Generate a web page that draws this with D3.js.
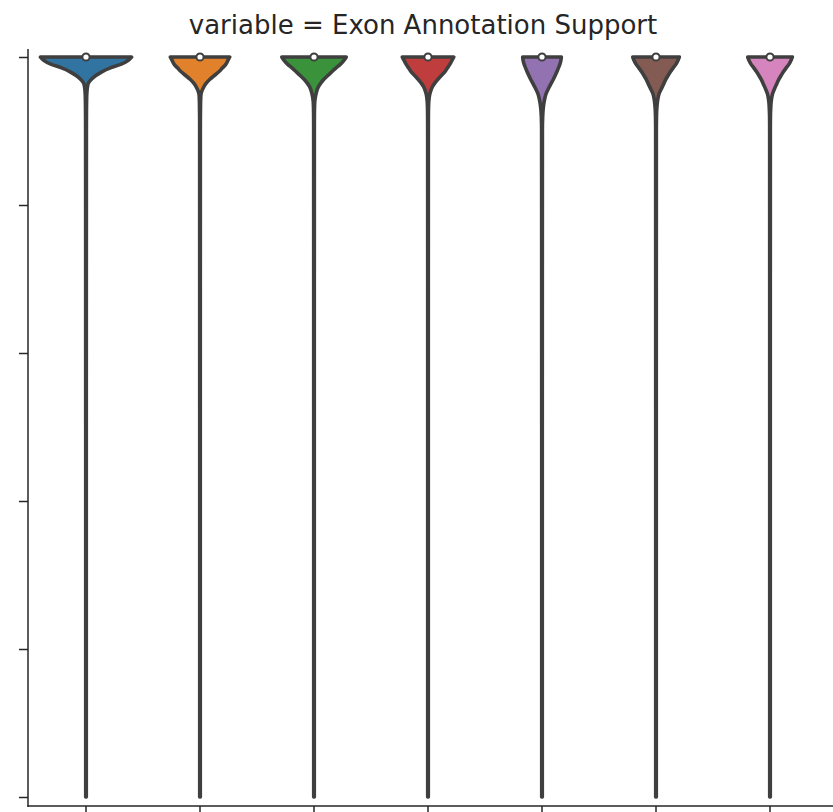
<!DOCTYPE html>
<html>
<head>
<meta charset="utf-8">
<script src="https://cdn.jsdelivr.net/npm/d3@7"></script>
<style>
  html, body { margin: 0; padding: 0; background: #fff; }
  svg { display: block; }
</style>
</head>
<body>
<svg id="chart" width="833" height="812"></svg>
<script>
// ---- data ----
const title = "variable = Exon Annotation Support";
const categories = ["c1", "c2", "c3", "c4", "c5", "c6", "c7"];
const colors = ["#3274a1", "#e1812c", "#3a923a", "#c03d3e", "#9372b2", "#845b53", "#d684bd"];
const yTicks = [0, 0.2, 0.4, 0.6, 0.8, 1.0];
// evaluation grid of the kernel density (value axis)
const grid = [0, 0.5, 0.9, 0.92, 0.93, 0.94, 0.95, 0.96, 0.965, 0.97, 0.975, 0.98, 0.985, 0.99, 0.995, 1.0];
// density (arbitrary units) at each grid value, one array per category
const dens1 = [0.3, 0.3, 0.4, 0.45, 0.5, 0.6, 0.8, 1.5, 2.5, 5.5, 10, 16, 24, 35, 42, 46];
const dens2 = [0.3, 0.3, 0.35, 0.4, 0.5, 0.6, 1.0, 4.0, 6.5, 10, 14.5, 19, 22.5, 26, 28, 30];
const dens3 = [0.3, 0.3, 0.35, 0.4, 0.5, 0.8, 2.0, 4.5, 7.0, 10, 14, 18, 22, 26.5, 30, 32.5];
const dens4 = [0.3, 0.3, 0.35, 0.4, 0.5, 0.8, 1.8, 4.5, 7.0, 10, 13.5, 17, 19.5, 22, 24, 26];
const dens5 = [0.3, 0.3, 0.4, 0.7, 1.2, 2.2, 4.0, 7.5, 9.5, 11.5, 13.3, 15, 16.5, 18, 19, 19.5];
const dens6 = [0.3, 0.3, 0.35, 0.5, 0.8, 1.5, 3.0, 6.5, 8.2, 10, 12.2, 14.5, 17.2, 20, 22, 23.5];
const dens7 = [0.3, 0.3, 0.35, 0.45, 0.7, 1.2, 2.5, 5.5, 7.2, 9, 11.2, 13.5, 16.2, 19, 21, 22.5];
const densities = [dens1, dens2, dens3, dens4, dens5, dens6, dens7];
const medians = [1.0, 1.0, 1.0, 1.0, 1.0, 1.0, 1.0];

// ---- layout ----
const svg = d3.select("#chart");
const W = 833, H = 812;
const mLeft = 28, mTop = 49, mBottom = 806, mRight = 827;
const edge = "#262626", line = "#3f3f3f";

const x = d3.scaleBand().domain(categories).range([mLeft + 1, mRight]).paddingInner(0).paddingOuter(0);
const y = d3.scaleLinear().domain([0, 1]).range([797, 57]);
const w = d3.scaleLinear().domain([0, 46]).range([0, x.bandwidth() * 0.4]);

svg.append("rect").attr("width", W).attr("height", H).attr("fill", "#fff");

// title
svg.append("text")
  .attr("x", 423)
  .attr("y", 34)
  .attr("text-anchor", "middle")
  .attr("font-family", "DejaVu Sans, sans-serif")
  .attr("font-size", 26)
  .attr("fill", edge)
  .text(title);

// violins
const area = d3.area()
  .curve(d3.curveMonotoneY)
  .y(d => y(d.v));

categories.forEach((c, i) => {
  const cx = x(c) + x.bandwidth() / 2;
  const pts = grid.map((v, k) => ({ v, d: densities[i][k] }));
  area.x0(d => cx - w(d.d)).x1(d => cx + w(d.d));
  svg.append("path")
    .attr("d", area(pts))
    .attr("fill", colors[i])
    .attr("stroke", line)
    .attr("stroke-width", 3.6)
    .attr("stroke-linejoin", "round");
  svg.append("circle")
    .attr("cx", cx)
    .attr("cy", y(medians[i]))
    .attr("r", 3.6)
    .attr("fill", "#fff")
    .attr("stroke", line)
    .attr("stroke-width", 2);
});

// axes
const yAxis = d3.axisLeft(y).tickValues(yTicks).tickSize(9).tickFormat("");
const gy = svg.append("g").attr("transform", `translate(${mLeft},0)`).call(yAxis);
gy.select(".domain").remove();
gy.selectAll(".tick line").attr("stroke", edge).attr("stroke-width", 1.5);
svg.append("line").attr("x1", mLeft).attr("x2", mLeft).attr("y1", mTop).attr("y2", mBottom + 0.75)
  .attr("stroke", edge).attr("stroke-width", 1.5);

const xAxis = d3.axisBottom(x).tickSize(9).tickFormat("");
const gx = svg.append("g").attr("transform", `translate(0,${mBottom})`).call(xAxis);
gx.select(".domain").remove();
gx.selectAll(".tick line").attr("stroke", edge).attr("stroke-width", 1.5);
svg.append("line").attr("x1", mLeft - 0.75).attr("x2", W).attr("y1", mBottom).attr("y2", mBottom)
  .attr("stroke", edge).attr("stroke-width", 1.5);
</script>
</body>
</html>
